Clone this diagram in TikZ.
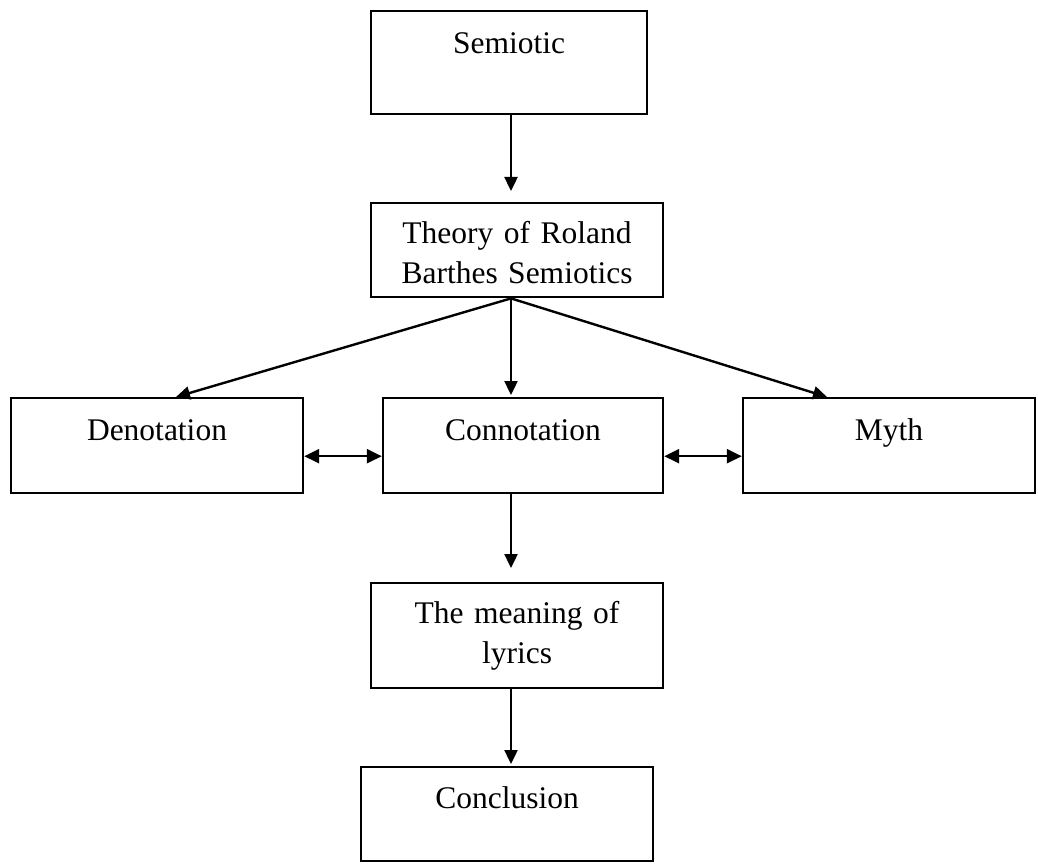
\documentclass[tikz,border=0pt]{standalone}
\usepackage{fontspec}
\setmainfont{Liberation Serif}
\usetikzlibrary{arrows.meta}
\tikzset{
    block/.style={draw, line width=2.4pt, inner sep=0pt, anchor=north, align=center,
        font=\fontsize{31.5}{40}\selectfont},
    link/.style={line width=2.4pt, -{Triangle[length=14pt, width=13pt]}},
    twoway/.style={line width=2.4pt, {Triangle[length=15pt, width=14pt]}-{Triangle[length=15pt, width=14pt]}},
}

\begin{document}
\begin{tikzpicture}[x=1pt, y=-1pt]
\useasboundingbox (0,0) rectangle (1038,866);

\node[block, text width=276pt, text height=42pt, text depth=61pt] (sem) at (509,10) {Semiotic};
\node[block, text width=292pt, text height=40pt, text depth=54pt] (theory) at (517,202) {Theory of Roland\\Barthes Semiotics};
\node[block, text width=292pt, text height=42pt, text depth=53pt] (deno) at (157,397) {Denotation};
\node[block, text width=280pt, text height=42pt, text depth=53pt] (conno) at (523,397) {Connotation};
\node[block, text width=292pt, text height=42pt, text depth=53pt] (myth) at (889,397) {Myth};
\node[block, text width=292pt, text height=40pt, text depth=65pt] (meaning) at (517,582) {The meaning of\\lyrics};
\node[block, text width=292pt, text height=41pt, text depth=53pt] (concl) at (507,766) {Conclusion};

\coordinate (spine) at (511,0);

\draw[link, shorten >=11pt] (sem.south -| spine) -- (theory.north -| spine);
\draw[link] (theory.south -| spine) -- ([xshift=19pt]deno.north);
\draw[link, shorten >=2pt] (theory.south -| spine) -- (conno.north -| spine);
\draw[link] (theory.south -| spine) -- ([xshift=-62pt]myth.north);
\draw[twoway] ([yshift=-10.5pt]deno.east) -- ([yshift=-10.5pt]conno.west);
\draw[twoway] ([yshift=-10.5pt]conno.east) -- ([yshift=-10.5pt]myth.west);
\draw[link, shorten >=14pt] (conno.south -| spine) -- (meaning.north -| spine);
\draw[link, shorten >=2pt] (meaning.south -| spine) -- (concl.north -| spine);
\end{tikzpicture}
\end{document}
